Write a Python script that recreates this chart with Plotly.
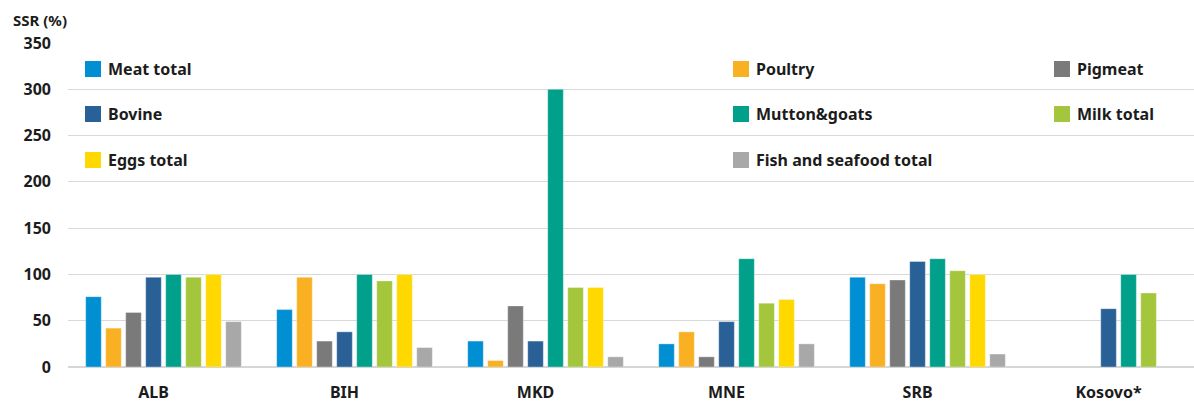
import plotly.graph_objects as go

# Self-sufficiency ratio by product group and economy
countries = ["ALB", "BIH", "MKD", "MNE", "SRB", "Kosovo*"]

series_names = [
    "Meat total", "Poultry", "Pigmeat", "Bovine",
    "Mutton&goats", "Milk total", "Eggs total", "Fish and seafood total",
]
series_colors = [
    "#008FD3", "#F9B123", "#7A7A7A", "#296096",
    "#00A08A", "#A4C63C", "#FFD800", "#A8A8A8",
]

meat_total = [76, 62, 28, 25, 97, None]
poultry = [42, 97, 7, 38, 90, None]
pigmeat = [59, 28, 66, 11, 94, None]
bovine = [97, 38, 28, 49, 114, 63]
mutton_goats = [100, 100, 300, 117, 117, 100]
milk_total = [97, 93, 86, 69, 104, 80]
eggs_total = [100, 100, 86, 73, 100, None]
fish_seafood = [49, 21, 11, 25, 14, None]

series_values = [
    meat_total, poultry, pigmeat, bovine,
    mutton_goats, milk_total, eggs_total, fish_seafood,
]

y_ticks = [0, 50, 100, 150, 200, 250, 300, 350]

W, H = 1194, 402
L, R, T, B = 68, 0, 43, 35
PW, PH = W - L - R, H - T - B

FONT = "Noto Sans"
TEXT = "#1c1c1c"

fig = go.Figure()
for name, color, vals in zip(series_names, series_colors, series_values):
    fig.add_trace(go.Bar(
        x=countries, y=vals, name=name,
        marker=dict(color=color, line=dict(color="rgba(255,255,255,0.35)", width=1)),
        showlegend=False,
    ))

# Legend drawn as a three-column grid inside the plot area
col_px = [85, 733, 1054]
row_px = [69, 114, 160]
sq = 16


def px_to_paper_x(px):
    return (px - L) / PW


def px_to_paper_y(py):
    return (H - B - py) / PH


shapes = []
annotations = []
for i, (name, color) in enumerate(zip(series_names, series_colors)):
    cx = col_px[i % 3]
    cy = row_px[i // 3]
    shapes.append(dict(
        type="rect", xref="paper", yref="paper",
        x0=px_to_paper_x(cx), x1=px_to_paper_x(cx + sq),
        y0=px_to_paper_y(cy + sq / 2), y1=px_to_paper_y(cy - sq / 2),
        fillcolor=color, line=dict(width=0), layer="above",
    ))
    annotations.append(dict(
        text=name, xref="paper", yref="paper",
        x=px_to_paper_x(cx + sq + 5), y=px_to_paper_y(cy),
        xanchor="left", yanchor="middle", showarrow=False,
        font=dict(family=FONT, size=16, color=TEXT, weight="bold"),
    ))

annotations.append(dict(
    text="SSR (%)", xref="paper", yref="paper",
    x=px_to_paper_x(11), y=px_to_paper_y(20),
    xanchor="left", yanchor="middle", showarrow=False,
    font=dict(family=FONT, size=15, color=TEXT, weight="bold"),
))

fig.update_layout(
    width=W, height=H,
    margin=dict(l=L, r=R, t=T, b=B, pad=0),
    paper_bgcolor="white", plot_bgcolor="white",
    barmode="group", bargap=0.162, bargroupgap=0.22,
    shapes=shapes, annotations=annotations,
    font=dict(family=FONT, color=TEXT),
)
fig.update_xaxes(
    range=[-0.5, 5.395],
    showgrid=False, showline=False, ticks="",
    ticklabelshift=-10, ticklabelstandoff=14,
    tickfont=dict(family=FONT, size=16, color=TEXT, weight="bold"),
)
fig.update_yaxes(
    range=[0, 350], tickvals=y_ticks,
    showgrid=True, gridcolor="#D9D9D9", gridwidth=1,
    zeroline=True, zerolinecolor="#D6D6D6", zerolinewidth=2,
    showline=False, ticks="", ticklabelstandoff=16,
    tickfont=dict(family=FONT, size=16, color=TEXT, weight="bold"),
)

fig.write_html("out.html")
